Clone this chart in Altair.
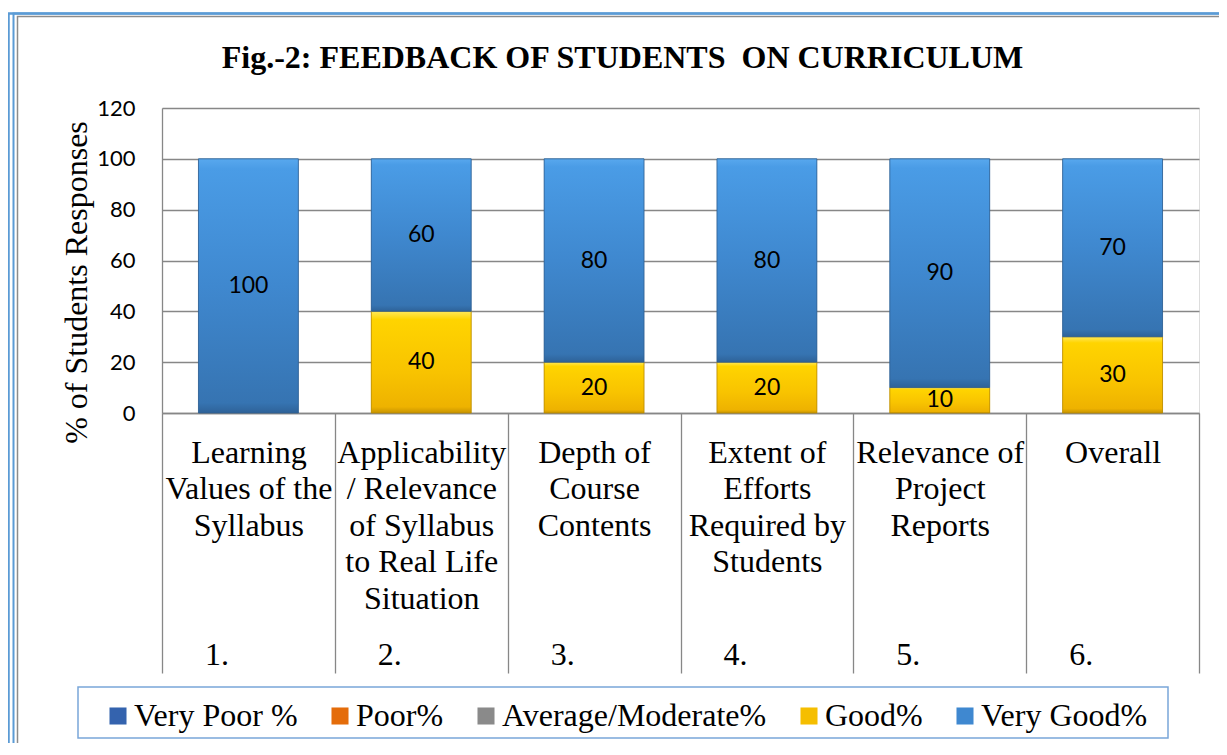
import altair as alt
import pandas as pd

# ---------------- data ----------------
categories = [
    "Learning\nValues of the\nSyllabus",
    "Applicability\n/ Relevance\nof Syllabus\nto Real Life\nSituation",
    "Depth of\nCourse\nContents",
    "Extent of\nEfforts\nRequired by\nStudents",
    "Relevance of\nProject\nReports",
    "Overall",
]
numbers = ["1.", "2.", "3.", "4.", "5.", "6."]
series = ["Very Poor %", "Poor%", "Average/Moderate%", "Good%", "Very Good%"]
series_colors = ["#3463AE", "#E46C0A", "#8A8A8A", "#F5BE00", "#3F88D0"]
good = [0, 40, 20, 20, 10, 30]
very_good = [100, 60, 80, 80, 90, 70]
y_ticks = [0, 20, 40, 60, 80, 100, 120]
title_text = "Fig.-2: FEEDBACK OF STUDENTS\u00a0 ON CURRICULUM"
y_title = "% of Students Responses"

rows = []
for i, c in enumerate(categories):
    for s, vals, o in (("Good%", good, 0), ("Very Good%", very_good, 1)):
        if vals[i] > 0:
            rows.append({"cat": c, "series": s, "value": vals[i], "ord": o})
df = pd.DataFrame(rows)
df_nums = pd.DataFrame({"cat": categories, "num": numbers})
one = pd.DataFrame({"t": [title_text]})

W, H = 1037, 305
SERIF = "Liberation Serif"
SANS = "Lato"
GRAY = "#878787"

blue_grad = {
    "gradient": "linear", "x1": 0, "y1": 0, "x2": 0, "y2": 1,
    "stops": [
        {"offset": 0, "color": "#58A8EE"},
        {"offset": 0.04, "color": "#4A9CE6"},
        {"offset": 0.5, "color": "#3F88CF"},
        {"offset": 0.96, "color": "#3674B2"},
        {"offset": 1, "color": "#2E6298"},
    ],
}
yellow_grad = {
    "gradient": "linear", "x1": 0, "y1": 0, "x2": 0, "y2": 1,
    "stops": [
        {"offset": 0, "color": "#FFE85A"},
        {"offset": 0.08, "color": "#FFD400"},
        {"offset": 0.6, "color": "#F8C300"},
        {"offset": 0.94, "color": "#EEB200"},
        {"offset": 1, "color": "#C89400"},
    ],
}

xenc = alt.X(
    "cat:N",
    sort=categories,
    scale=alt.Scale(paddingInner=0, paddingOuter=0),
    axis=alt.Axis(
        title=None,
        labelAngle=0,
        labelExpr="split(datum.label, '\\n')",
        labelFont=SERIF,
        labelFontSize=32,
        labelColor="#000000",
        labelLineHeight=36.5,
        labelBaseline="alphabetic",
        labelLimit=400,
        labelPadding=-211,
        tickSize=260,
        tickBand="extent",
        tickColor=GRAY,
        tickWidth=1.3,
        domainColor=GRAY,
        domainWidth=1.3,
        labelOverlap=False,
        labelBound=False,
    ),
)

base = alt.Chart(df).transform_stack(
    stack="value",
    groupby=["cat"],
    sort=[alt.SortField("ord", order="ascending")],
    as_=["v0", "v1"],
).transform_calculate(mid="(datum.v0 + datum.v1) / 2")

bars = base.mark_bar(width=alt.RelativeBandSize(0.578)).encode(
    x=xenc,
    y=alt.Y(
        "v0:Q",
        scale=alt.Scale(domain=[0, 120], nice=False),
        axis=alt.Axis(
            values=y_ticks,
            title=y_title,
            titleFont=SERIF,
            titleFontSize=32,
            titleFontWeight="normal",
            titleColor="#000000",
            titleX=-86,
            titleY=174,
            titleAngle=-90,
            titleAlign="center",
            titleBaseline="middle",
            labelFont=SANS,
            labelFontSize=22,
            labelColor="#000000",
            labelPadding=27,
            ticks=False,
            grid=True,
            gridColor=GRAY,
            gridWidth=1.3,
            domainColor=GRAY,
            domainWidth=1.3,
        ),
    ),
    y2="v1:Q",
    color=alt.Color(
        "series:N",
        scale=alt.Scale(domain=series, range=series_colors),
        legend=alt.Legend(
            title=None,
            orient="none",
            direction="horizontal",
            columns=5,
            legendX=-60,
            legendY=592,
            symbolType="square",
            symbolSize=290,
            symbolStrokeWidth=0,
            labelFont=SERIF,
            labelFontSize=32,
            labelColor="#000000",
            labelOffset=0,
            columnPadding=26,
            padding=0,
            labelLimit=400,
        ),
    ),
)

over_blue = base.transform_filter("datum.series == 'Very Good%'").mark_bar(
    width=alt.RelativeBandSize(0.578), color=blue_grad, stroke="#2F5F90", strokeWidth=1, strokeOpacity=0.8
).encode(x=alt.X("cat:N", sort=categories), y="v0:Q", y2="v1:Q")

over_yellow = base.transform_filter("datum.series == 'Good%'").mark_bar(
    width=alt.RelativeBandSize(0.578), color=yellow_grad, stroke="#B88A00", strokeWidth=1, strokeOpacity=0.8
).encode(x=alt.X("cat:N", sort=categories), y="v0:Q", y2="v1:Q")

labels = base.mark_text(font=SANS, fontSize=23, color="#000000", baseline="middle").encode(
    x=alt.X("cat:N", sort=categories),
    y=alt.Y("mid:Q"),
    text=alt.Text("value:Q"),
)

nums = alt.Chart(df_nums).mark_text(
    font=SERIF, fontSize=32, color="#000000", align="left", baseline="alphabetic", dx=43
).encode(
    x=alt.X("cat:N", sort=categories, bandPosition=0),
    y=alt.value(557),
    text="num:N",
)

title = alt.Chart(one).mark_text(
    font=SERIF, fontSize=32, fontWeight="bold", color="#000000", align="center", baseline="alphabetic"
).encode(x=alt.value(460.5), y=alt.value(-40), text="t:N")

frame_outer = alt.Chart(one).mark_rect(fill=None, stroke="#5B9BD5", strokeWidth=2.5).encode(
    x=alt.value(-153.5), x2=alt.value(1090), y=alt.value(-94.5), y2=alt.value(660)
)
frame_inner = alt.Chart(one).mark_rect(fill=None, stroke="#5B9BD5", strokeWidth=2).encode(
    x=alt.value(-148.5), x2=alt.value(1090), y=alt.value(-94.5), y2=alt.value(660)
)
frame_gray = alt.Chart(one).mark_rect(fill=None, stroke="#8c8c8c", strokeWidth=1.5).encode(
    x=alt.value(-144.5), x2=alt.value(1085), y=alt.value(-91.5), y2=alt.value(644)
)
legend_box = alt.Chart(one).mark_rect(fill=None, stroke="#7AA6D9", strokeWidth=1.5).encode(
    x=alt.value(-84), x2=alt.value(1006), y=alt.value(579), y2=alt.value(630)
)

chart = alt.layer(
    frame_outer, frame_inner, frame_gray, legend_box, bars, over_yellow, over_blue, labels, nums, title
).properties(
    width=W,
    height=H,
    autosize=alt.AutoSizeParams(type="none"),
    padding={"left": 154, "top": 100, "right": 20, "bottom": 330},
).configure_view(stroke=None).configure(background="#ffffff")

chart.save("out.html", embed_options={"renderer": "svg", "actions": False})
